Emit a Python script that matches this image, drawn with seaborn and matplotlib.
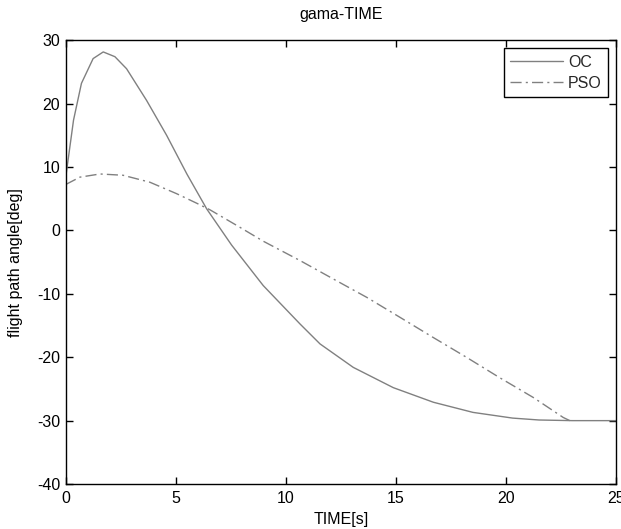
import matplotlib
matplotlib.use("Agg")
import matplotlib.pyplot as plt
import seaborn as sns

# OC curve
oc_t = [0.0, 0.35, 0.71, 1.24, 1.70, 2.23, 2.76, 3.67, 4.58, 5.5, 6.40, 7.53, 8.97,
        10.64, 11.55, 13.06, 14.88, 16.7, 18.5, 20.3, 21.5, 23.0, 25.0]
oc_gamma = [8.5, 17.4, 23.2, 27.1, 28.15, 27.4, 25.5, 20.5, 15.0, 8.9, 3.4, -2.3, -8.7,
            -14.75, -17.9, -21.6, -24.8, -27.1, -28.7, -29.6, -29.9, -30.0, -30.0]

# PSO curve
pso_t = [0.0, 0.64, 1.55, 2.6, 3.82, 5.03, 5.94, 6.55, 7.76, 8.97, 10.64, 12.15,
         13.67, 15.18, 16.7, 18.2, 19.7, 21.24, 22.6, 22.9]
pso_gamma = [7.25, 8.4, 8.9, 8.7, 7.6, 5.8, 4.3, 3.25, 0.8, -1.7, -4.75, -7.65,
             -10.55, -13.7, -16.9, -20.0, -23.2, -26.35, -29.5, -30.0]

x_ticks = [0, 5, 10, 15, 20, 25]
y_ticks = [-40, -30, -20, -10, 0, 10, 20, 30]

sns.set_theme(style="white")
plt.rcParams['font.family'] = ['Liberation Sans', 'DejaVu Sans']

fig = plt.figure(figsize=(6.21, 5.29), dpi=100)
ax = fig.add_axes([0.106, 0.085, 0.886, 0.839])

line_color = "#808080"
sns.lineplot(x=oc_t, y=oc_gamma, ax=ax, color=line_color, linewidth=1.0,
             label="OC", sort=False, estimator=None)
sns.lineplot(x=pso_t, y=pso_gamma, ax=ax, color=line_color, linewidth=1.0,
             label="PSO", sort=False, estimator=None, linestyle=(0, (8, 3, 1.5, 3)))

ax.set_xlim(0, 25)
ax.set_ylim(-40, 30)
ax.set_xticks(x_ticks)
ax.set_yticks(y_ticks)
ax.set_xticklabels([str(v) for v in x_ticks])
ax.set_yticklabels([str(v) for v in y_ticks])
ax.tick_params(direction="in", length=5, width=1, color="black",
               top=True, right=True, bottom=True, left=True,
               labelsize=11.5, labelcolor="black")
ax.tick_params(axis="x", pad=5)
ax.tick_params(axis="y", pad=4)
for s in ax.spines.values():
    s.set_color("black")
    s.set_linewidth(1.0)

ax.set_title("gama-TIME", fontsize=11.5, color="black", pad=15)
ax.set_xlabel("TIME[s]", fontsize=11.5, color="black", labelpad=4)
ax.set_ylabel("flight path angle[deg]", fontsize=11.5, color="black", labelpad=10)

leg = ax.legend(loc="upper right", fontsize=11.5, frameon=True, fancybox=False,
                edgecolor="black", framealpha=1, handlelength=3.3,
                borderaxespad=0.5, labelspacing=0.4, borderpad=0.4,
                handletextpad=0.3)
leg.get_frame().set_linewidth(1.0)
for h in leg.get_lines():
    h.set_color(line_color)

fig.savefig("out.png", dpi=100)
